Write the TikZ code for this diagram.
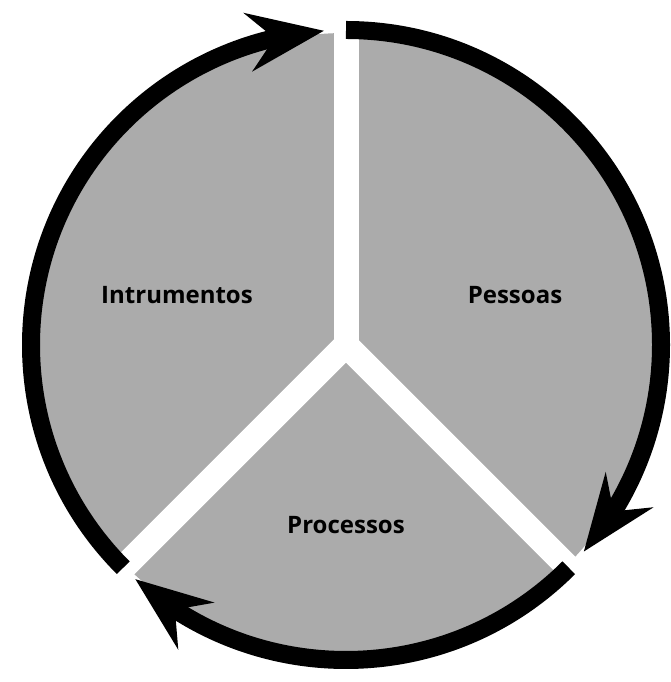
\documentclass[tikz,border=0pt]{standalone}
\usepackage{fontspec}
\setmainfont{Open Sans}
\usetikzlibrary{arrows.meta,bending}

\definecolor{sectorgray}{gray}{0.67}
\tikzset{
  ring/.style={line width=18pt, -{Stealth[length=76pt,width=58pt,inset=26pt]}},
  gapline/.style={white, line width=25pt, line cap=round},
  sectorlabel/.style={font=\fontsize{24}{28}\selectfont\bfseries}
}

\begin{document}
\begin{tikzpicture}[x=1pt,y=1pt]
  \useasboundingbox (0,0) rectangle (671,682);
  \coordinate (c) at (346,337);

  % ---- grey disc, cut in three by white gaps ----
  \fill[sectorgray] (c) circle[radius=312];
  \foreach \a in {90,225,315} {
    \draw[gapline] (c) -- ([shift={(\a:335)}]c);
  }

  % ---- the cycle: three black arcs, clockwise ----
  \draw[ring] ([shift={(90:315)}]c) arc[start angle=90, end angle=-41, radius=315];
  \draw[ring] ([shift={(-45:315)}]c) arc[start angle=-45, end angle=-132, radius=315];
  \draw[ring] ([shift={(225:315)}]c) arc[start angle=225, end angle=94, radius=315];

  % ---- labels ----
  \node[sectorlabel] (instrumentos) at (177,387) {Intrumentos};
  \node[sectorlabel] (pessoas) at (515,387) {Pessoas};
  \node[sectorlabel] (processos) at (346,157) {Processos};

\end{tikzpicture}
\end{document}
